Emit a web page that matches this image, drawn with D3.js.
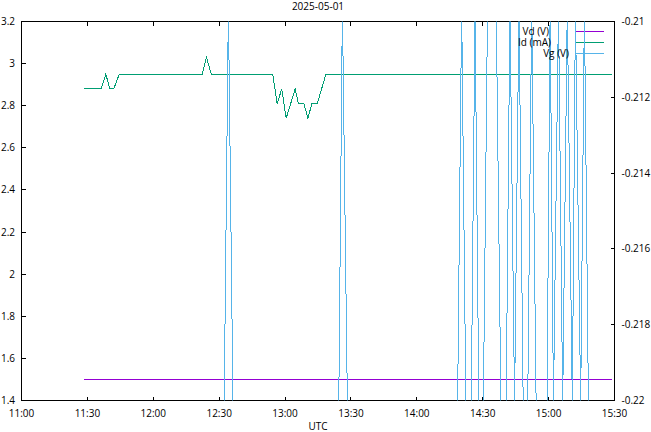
<!DOCTYPE html>
<html><head><meta charset="utf-8">
<script src="https://cdn.jsdelivr.net/npm/d3@7"></script>
<style>
body{margin:0;background:#fff}
svg{display:block}
text{font-family:"Open Sans",sans-serif;font-size:10px;fill:#000}
</style>
</head><body>
<svg id="c" width="651" height="432"></svg>
<script>
// ---------------- data ----------------
const dateStr = "2025-05-01";
const xDomainLabels = ["11:00", "15:30"];
const xTickLabels = ["11:00","11:30","12:00","12:30","13:00","13:30","14:00","14:30","15:00","15:30"];
const yLeftTicks = [1.4,1.6,1.8,2.0,2.2,2.4,2.6,2.8,3.0,3.2];
const yLeftTickLabels = ["1.4","1.6","1.8","2","2.2","2.4","2.6","2.8","3","3.2"];
const yRightTicks = [-0.22,-0.218,-0.216,-0.214,-0.212,-0.21];
const yRightTickLabels = ["-0.22","-0.218","-0.216","-0.214","-0.212","-0.21"];
const seriesNames = ["Vd (V)", "Id (mA)", "Vg (V)"];
const seriesColors = ["#9400d3", "#009e73", "#56b4e9"];
const xAxisTitle = "UTC";

const vdTimes  = ["11:28:24", "15:28:42"];
const vdValues = [1.5, 1.5];

const idTimes  = ["11:28:24","11:36:18","11:38:24","11:40:12","11:42:00","11:44:30",
                  "12:22:18","12:24:12","12:26:24","12:54:24","12:56:24","12:58:30",
                  "13:00:30","13:04:36","13:06:06","13:08:36","13:10:24","13:12:12",
                  "13:14:42","13:18:36","15:28:42"];
const idValues = [2.88,2.88,2.95,2.88,2.88,2.95,
                  2.95,3.03,2.95,2.95,2.81,2.88,
                  2.74,2.88,2.81,2.81,2.74,2.81,
                  2.81,2.95,2.95];

const vgTimes  = ["11:28:24","12:32:12","12:34:12","12:36:24","13:24:24","13:26:06","13:28:30",
                  "14:18:30","14:20:24","14:22:24","14:24:42","14:26:30","14:28:18",
                  "14:30:12","14:32:12","14:36:06","14:38:24","14:40:36","14:42:24","14:44:30",
                  "14:46:30","14:48:30","14:50:24","14:52:18","14:54:24","14:59:12","15:00:42",
                  "15:02:12","15:04:30","15:06:24","15:08:30","15:10:48","15:12:12","15:14:36",
                  "15:16:18","15:18:12","15:28:42"];
const vgValues = [-0.2206,-0.2205,-0.2096,-0.2206,-0.2205,-0.2096,-0.2206,
                  -0.2205,-0.2096,-0.2205,-0.2206,-0.2097,-0.2205,
                  -0.2206,-0.2096,-0.2095,-0.2206,-0.2205,-0.2096,-0.2201,
                  -0.2096,-0.2205,-0.2206,-0.2096,-0.2205,-0.2206,-0.2097,
                  -0.2201,-0.2096,-0.2201,-0.2096,-0.2201,-0.2097,-0.2201,
                  -0.2096,-0.2205,-0.2206];

// ---------------- chart ----------------
const parse = d3.utcParse("%Y-%m-%d %H:%M:%S");
const T = s => parse(dateStr + " " + (s.length === 5 ? s + ":00" : s));

const L = 21.5, R = 614.5, TOP = 21.5, B = 400.5;
const svg = d3.select("#c");

const x = d3.scaleUtc().domain(xDomainLabels.map(T)).range([L, R]);
const yL = d3.scaleLinear().domain([1.4, 3.2]).range([B, TOP]);
const yR = d3.scaleLinear().domain([-0.22, -0.21]).range([B, TOP]);

// title
svg.append("text").attr("x", (L + R) / 2).attr("y", 9.5)
  .attr("text-anchor", "middle").text(dateStr);

// axes
const tick = 4;
const gB = svg.append("g").attr("transform", `translate(0,${B})`)
  .call(d3.axisBottom(x).tickValues(xTickLabels.map(T))
    .tickFormat(d3.utcFormat("%H:%M")).tickSizeInner(-tick).tickSizeOuter(0).tickPadding(0).offset(0));
gB.selectAll("text").attr("dy", null).attr("y", 16);
svg.append("g").attr("transform", `translate(0,${TOP})`)
  .call(d3.axisTop(x).tickValues(xTickLabels.map(T))
    .tickFormat("").tickSizeInner(-tick).tickSizeOuter(0).offset(0));
const gLft = svg.append("g").attr("transform", `translate(${L},0)`)
  .call(d3.axisLeft(yL).tickValues(yLeftTicks)
    .tickFormat((d, i) => yLeftTickLabels[i]).tickSizeInner(-tick).tickSizeOuter(0).tickPadding(6.5).offset(0));
gLft.selectAll("text").attr("dy", null).attr("y", 3.5);
const gRgt = svg.append("g").attr("transform", `translate(${R},0)`)
  .call(d3.axisRight(yR).tickValues(yRightTicks)
    .tickFormat((d, i) => yRightTickLabels[i]).tickSizeInner(-tick).tickSizeOuter(0).tickPadding(7).offset(0));
gRgt.selectAll("text").attr("dy", null).attr("y", 3.5);

svg.selectAll(".domain").remove();
svg.selectAll(".tick line").attr("stroke", "#000").attr("shape-rendering", "crispEdges");
svg.selectAll(".tick text").attr("fill", "#000").style("font-family", '"Open Sans",sans-serif').style("font-size", "10px");
svg.selectAll("g").attr("font-family", null).attr("font-size", null);

// border
svg.append("rect").attr("x", L).attr("y", TOP).attr("width", R - L).attr("height", B - TOP)
  .attr("fill", "none").attr("stroke", "#000").attr("shape-rendering", "crispEdges");

// x-axis title
svg.append("text").attr("x", (L + R) / 2).attr("y", 429.5).attr("text-anchor", "middle").text(xAxisTitle);

// clip
svg.append("clipPath").attr("id", "clip").append("rect")
  .attr("x", L).attr("y", TOP).attr("width", R - L).attr("height", B - TOP);

const mk = (times, vals) => times.map((t, i) => ({ t: T(t), v: vals[i] }));
const series = [
  { data: mk(vdTimes, vdValues), y: yL },
  { data: mk(idTimes, idValues), y: yL },
  { data: mk(vgTimes, vgValues), y: yR }
];

const keyRowsY = [31.5, 42.5, 53.5];
const keyTextRight = [549, 551, 569];

series.forEach((s, i) => {
  svg.append("line").attr("x1", 576).attr("x2", 604)
    .attr("y1", keyRowsY[i]).attr("y2", keyRowsY[i])
    .attr("stroke", seriesColors[i]).attr("stroke-width", 1).attr("shape-rendering", "crispEdges");
  const line = d3.line().x(d => x(d.t)).y(d => s.y(d.v));
  svg.append("path").datum(s.data).attr("d", line)
    .attr("clip-path", "url(#clip)")
    .attr("fill", "none").attr("stroke", seriesColors[i]).attr("stroke-width", 1)
    .attr("shape-rendering", "crispEdges");
});

// legend texts on top
series.forEach((s, i) => {
  svg.append("text").attr("x", keyTextRight[i]).attr("y", keyRowsY[i] + 3.5)
    .attr("text-anchor", "end").text(seriesNames[i]);
});
</script>
</body></html>
